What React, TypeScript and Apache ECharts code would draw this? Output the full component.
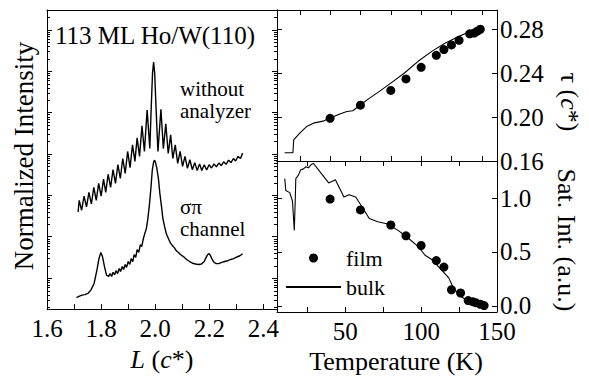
import React, { useEffect, useRef } from "react";
import * as echarts from "echarts";

const FONT = "Liberation Serif";

// ---- Left panel: L (c*) vs log10(normalized intensity) ----
const noAnalyzerL = [
  1.715, 1.719, 1.728, 1.737, 1.746, 1.755, 1.764, 1.773, 1.782, 1.791, 1.8, 1.809, 1.817, 1.826, 1.835,
  1.844, 1.853, 1.862, 1.871, 1.88, 1.889, 1.898, 1.907, 1.916, 1.925, 1.933, 1.942, 1.951, 1.96, 1.97,
  1.98, 1.984, 1.987, 1.99, 1.994, 1.998, 2.001, 2.005, 2.01, 2.021, 2.03, 2.039, 2.048, 2.057, 2.065,
  2.074, 2.083, 2.092, 2.101, 2.11, 2.119, 2.128, 2.137, 2.146, 2.155, 2.164, 2.172, 2.181, 2.19, 2.199,
  2.208, 2.217, 2.226, 2.235, 2.244, 2.253, 2.262, 2.271, 2.28, 2.289, 2.297, 2.306, 2.315, 2.323,
];
const noAnalyzerLogI = [
  1.6, 1.88, 1.64, 1.98, 1.72, 2.07, 1.79, 2.19, 1.88, 2.29, 1.98, 2.39, 2.07, 2.51, 2.19,
  2.62, 2.29, 2.74, 2.41, 2.89, 2.53, 3.06, 2.67, 3.22, 2.82, 3.39, 2.94, 3.68, 3.06, 4.06,
  3.13, 3.9, 4.44, 4.95, 5.22, 4.95, 4.44, 3.8, 3.06, 4.08, 3.13, 3.73, 3.01, 3.46, 2.89,
  3.22, 2.77, 3.06, 2.7, 2.94, 2.65, 2.86, 2.62, 2.79, 2.6, 2.76, 2.6, 2.74, 2.61, 2.74,
  2.66, 2.76, 2.69, 2.78, 2.72, 2.81, 2.75, 2.85, 2.79, 2.89, 2.83, 2.94, 2.89, 3.02,
];
const sigmaPiL = [
  1.709, 1.718, 1.729, 1.74, 1.751, 1.762, 1.774, 1.785, 1.792, 1.799, 1.805, 1.813, 1.82, 1.828, 1.833,
  1.839, 1.844, 1.85, 1.855, 1.861, 1.867, 1.872, 1.878, 1.883, 1.889, 1.894, 1.9, 1.906, 1.911, 1.917,
  1.922, 1.928, 1.933, 1.939, 1.945, 1.95, 1.956, 1.961, 1.967, 1.972, 1.978, 1.984, 1.989, 1.994, 1.997,
  2.0, 2.006, 2.012, 2.017, 2.023, 2.028, 2.034, 2.041, 2.049, 2.056, 2.064, 2.071, 2.078, 2.086, 2.093,
  2.104, 2.116, 2.127, 2.138, 2.149, 2.16, 2.171, 2.181, 2.188, 2.194, 2.199, 2.203, 2.209, 2.216, 2.225,
  2.235, 2.246, 2.257, 2.268, 2.279, 2.29, 2.302, 2.313, 2.323,
];
const sigmaPiLogI = [
  -0.47, -0.44, -0.41, -0.4, -0.37, -0.29, -0.13, 0.21, 0.47, 0.62, 0.52, 0.26, 0.07, 0.04, 0.11,
  0.04, 0.14, 0.08, 0.18, 0.11, 0.23, 0.16, 0.28, 0.21, 0.33, 0.26, 0.4, 0.33, 0.47, 0.4,
  0.57, 0.5, 0.69, 0.62, 0.81, 0.76, 0.95, 1.07, 1.19, 1.4, 1.74, 2.17, 2.6, 2.8, 2.85,
  2.82, 2.65, 2.39, 2.05, 1.74, 1.45, 1.26, 1.07, 0.95, 0.85, 0.78, 0.73, 0.66, 0.62, 0.57,
  0.52, 0.45, 0.4, 0.36, 0.34, 0.33, 0.34, 0.4, 0.5, 0.57, 0.59, 0.56, 0.47, 0.39, 0.35,
  0.35, 0.38, 0.4, 0.42, 0.45, 0.47, 0.51, 0.54, 0.59,
];
const lTicks = [1.6, 1.7, 1.8, 1.9, 2.0, 2.1, 2.2, 2.3, 2.4];
const lLabels = [1.6, 1.8, 2.0, 2.2, 2.4];
const decadeTicks = [0, 1, 2, 3, 4, 5, 6];
const minorDecades = [-1, 0, 1, 2, 3, 4, 5, 6];
const minorMultipliers = [2, 3, 4, 5, 6, 7, 8, 9];

// ---- Right panels: temperature dependence ----
const filmTauT = [40, 60, 80, 90, 100, 110, 115, 120, 125, 132, 135, 137, 139];
const filmTau = [0.199, 0.211, 0.2245, 0.235, 0.2456, 0.2566, 0.2618, 0.2661, 0.2703, 0.2762, 0.277, 0.2786, 0.2804];
const bulkTauT = [10, 15.5, 16, 20, 24.5, 29, 36, 40, 46, 51, 55, 60, 66, 72.5, 80, 89, 98, 107, 116, 125, 132.5, 138];
const bulkTau = [0.1676, 0.1676, 0.1793, 0.1854, 0.1915, 0.1946, 0.1967, 0.1992, 0.2028, 0.2052, 0.2059, 0.2114, 0.2175, 0.2236, 0.2312, 0.2404, 0.2511, 0.2602, 0.2679, 0.274, 0.2786, 0.281];
const filmSatT = [40, 60, 80, 90, 100, 110, 115, 120, 126, 131, 134, 136, 139, 141.5];
const filmSat = [0.99, 0.89, 0.75, 0.65, 0.56, 0.42, 0.36, 0.15, 0.12, 0.05, 0.04, 0.03, 0.016, 0.004];
const bulkSatT = [10.1, 10.8, 13.4, 15.2, 16.4, 17.0, 17.4, 19.0, 20.6, 22.4, 24.1, 25.7, 27.5, 29.1, 33.5, 39.1, 43.5, 49.1, 52.5, 56.9, 61.4, 65.8, 71.4, 78.1, 84.8, 91.4, 98.1, 102.6, 107.0, 113.7, 118.2, 121.5, 126.0, 131.6, 138.2, 142.7];
const bulkSat = [1.18, 1.07, 1.05, 0.97, 0.7, 0.97, 1.18, 1.21, 1.26, 1.27, 1.29, 1.28, 1.31, 1.32, 1.24, 1.14, 1.17, 1.01, 1.03, 1.01, 0.91, 0.81, 0.78, 0.76, 0.7, 0.63, 0.55, 0.47, 0.43, 0.33, 0.26, 0.16, 0.09, 0.04, 0.016, 0.009];
const tauTicks = [20, 40, 60, 80, 100, 120, 140];
const satTTicks = [25, 50, 75, 100, 125, 150];
const tLabels = [50, 100, 150];
const tauLabels = [0.16, 0.2, 0.24, 0.28];
const satLabels = [0, 0.5, 1.0];

const L_MIN = 1.6, L_MAX = 2.45;
const LOG_MIN = -0.749, LOG_MAX = 6.478;
const T_MIN = 5, T_MAX = 150;
const TAU_MIN = 0.16, TAU_MAX = 0.298;
const SAT_MIN = -0.056, SAT_MAX = 1.343;

const zip = (a: number[], b: number[]) => a.map((v, i) => [v, b[i]]);
const BLACK = "#000";
const axisLine = { show: true, onZero: false, lineStyle: { color: BLACK, width: 1 } };
const labelStyle = { color: BLACK, fontFamily: FONT, fontSize: 25 };

function xAxisDef(gridIndex: number, position: string, min: number, max: number, ticks: number[] | null, labels: number[] | null, fmt?: (v: number) => string) {
  return {
    type: "value",
    gridIndex,
    position,
    min,
    max,
    axisLine,
    axisTick: ticks ? { show: true, inside: true, length: 5, customValues: ticks, lineStyle: { color: BLACK } } : { show: false },
    axisLabel: labels ? { show: true, customValues: labels, formatter: fmt, margin: 7, ...labelStyle } : { show: false },
    splitLine: { show: false },
  };
}
function yAxisDef(gridIndex: number, position: string, min: number, max: number, ticks: number[], labels: number[] | null, fmt?: (v: number) => string) {
  return {
    type: "value",
    gridIndex,
    position,
    min,
    max,
    axisLine,
    axisTick: { show: true, inside: true, length: 5, customValues: ticks, lineStyle: { color: BLACK } },
    axisLabel: labels ? { show: true, customValues: labels, formatter: fmt, margin: 3, ...labelStyle } : { show: false },
    splitLine: { show: false },
  };
}

const txt = (text: string, size: number, extra: any = {}) => ({
  text,
  fontSize: size,
  fontFamily: FONT,
  fill: BLACK,
  ...extra,
});

export default function App() {
  const ref = useRef<HTMLDivElement>(null);
  useEffect(() => {
    document.body.style.margin = "0";
    const chart = echarts.init(ref.current!, null, { renderer: "svg" });
    const minorVals: number[] = [];
    minorDecades.forEach((d) =>
      minorMultipliers.forEach((k) => {
        const v = d + Math.log10(k);
        if (v > LOG_MIN + 0.005 && v < LOG_MAX - 0.005) minorVals.push(v);
      })
    );
    const xA = [
      {
        ...xAxisDef(0, "bottom", L_MIN, L_MAX, lTicks, lLabels, (v: number) => v.toFixed(1)),
        name: "{i|L} ({i|c}*)",
        nameLocation: "middle",
        nameGap: 36,
        nameTextStyle: {
          color: BLACK,
          fontFamily: FONT,
          fontSize: 26,
          rich: { i: { fontStyle: "italic", fontFamily: FONT, fontSize: 26, color: BLACK } },
        },
      },
      xAxisDef(0, "top", L_MIN, L_MAX, null, null),
      xAxisDef(1, "top", T_MIN, T_MAX, tauTicks, null),
      xAxisDef(1, "bottom", T_MIN, T_MAX, tauTicks, null),
      xAxisDef(2, "top", T_MIN, T_MAX, satTTicks, null),
      {
        ...xAxisDef(2, "bottom", T_MIN, T_MAX, satTTicks, tLabels, (v: number) => String(v)),
        name: "Temperature (K)",
        nameLocation: "middle",
        nameGap: 36,
        nameTextStyle: { color: BLACK, fontFamily: FONT, fontSize: 26, padding: [0, 0, 0, 18] },
      },
    ];
    const yA = [
      yAxisDef(0, "left", LOG_MIN, LOG_MAX, decadeTicks, null),
      yAxisDef(0, "right", LOG_MIN, LOG_MAX, decadeTicks, null),
      yAxisDef(1, "left", TAU_MIN, TAU_MAX, tauLabels, null),
      yAxisDef(1, "right", TAU_MIN, TAU_MAX, tauLabels, tauLabels, (v: number) => v.toFixed(2)),
      yAxisDef(2, "left", SAT_MIN, SAT_MAX, satLabels, null),
      yAxisDef(2, "right", SAT_MIN, SAT_MAX, satLabels, satLabels, (v: number) => v.toFixed(1)),
    ];
    const lineStyle = { color: BLACK, width: 1.4 };
    const option: any = {
      animation: false,
      backgroundColor: "#fff",
      grid: [
        { left: 47, top: 10, width: 230, height: 302 },
        { left: 277, top: 10, width: 220, height: 151 },
        { left: 277, top: 161, width: 220, height: 151 },
      ],
      xAxis: xA,
      yAxis: yA,
      legend: {
        data: ["film", { name: "bulk", itemStyle: { opacity: 0 } }],
        orient: "vertical",
        left: 285,
        top: 247,
        padding: 0,
        itemWidth: 55,
        itemHeight: 9,
        itemGap: 7,
        selectedMode: false,
        textStyle: { color: BLACK, fontFamily: FONT, fontSize: 22, lineHeight: 22 },
      },
      graphic: [
        { type: "text", x: 55, y: 35.5, style: txt("113 ML Ho/W(110)", 25, { verticalAlign: "middle" }) },
        { type: "text", x: 180, y: 78, style: txt("without\nanalyzer", 21, { verticalAlign: "top", lineHeight: 22 }) },
        { type: "text", x: 180, y: 196, style: txt("σπ\nchannel", 21, { verticalAlign: "top", lineHeight: 22 }) },
        {
          type: "text", x: 24, y: 156, rotation: Math.PI / 2,
          style: txt("Normalized Intensity", 27, { align: "center", verticalAlign: "middle" }),
        },
        {
          type: "text", x: 569, y: 102, rotation: -Math.PI / 2,
          style: {
            text: "{n|τ (}{i|c}{n|*)}", fontSize: 26, fontFamily: FONT, fill: BLACK, align: "center", verticalAlign: "middle",
            rich: {
              n: { fontSize: 26, fontFamily: FONT, fill: BLACK },
              i: { fontSize: 26, fontFamily: FONT, fontStyle: "italic", fill: BLACK },
            },
          },
        },
        {
          type: "text", x: 566, y: 240, rotation: -Math.PI / 2,
          style: txt("Sat. Int. (a.u.)", 26, { align: "center", verticalAlign: "middle" }),
        },
      ],
      series: [
        { name: "without analyzer", type: "line", xAxisIndex: 0, yAxisIndex: 0, data: zip(noAnalyzerL, noAnalyzerLogI), symbol: "none", lineStyle },
        { name: "σπ channel", type: "line", xAxisIndex: 0, yAxisIndex: 0, data: zip(sigmaPiL, sigmaPiLogI), symbol: "none", lineStyle },
        {
          name: "minor ticks",
          type: "custom",
          xAxisIndex: 0,
          yAxisIndex: 0,
          silent: true,
          data: minorVals.map((v) => [L_MIN, v]),
          renderItem: (_p: any, api: any) => {
            const v = api.value(1);
            const l = api.coord([L_MIN, v]);
            const r = api.coord([L_MAX, v]);
            const y = Math.round(l[1]) + 0.5;
            return {
              type: "group",
              children: [
                { type: "line", shape: { x1: l[0], y1: y, x2: l[0] + 3, y2: y }, style: { stroke: BLACK, lineWidth: 1 } },
                { type: "line", shape: { x1: r[0] - 3, y1: y, x2: r[0], y2: y }, style: { stroke: BLACK, lineWidth: 1 } },
              ],
            };
          },
        },
        { name: "bulk", type: "line", xAxisIndex: 2, yAxisIndex: 2, data: zip(bulkTauT, bulkTau), symbol: "none", lineStyle: { color: BLACK, width: 1.1 }, itemStyle: { color: BLACK } },
        { name: "film", type: "scatter", xAxisIndex: 2, yAxisIndex: 2, data: zip(filmTauT, filmTau), symbol: "circle", symbolSize: 9, itemStyle: { color: BLACK, opacity: 1 } },
        { name: "bulk", type: "line", xAxisIndex: 5, yAxisIndex: 4, data: zip(bulkSatT, bulkSat), symbol: "none", lineStyle: { color: BLACK, width: 1.1 }, itemStyle: { color: BLACK } },
        { name: "film", type: "scatter", xAxisIndex: 5, yAxisIndex: 4, data: zip(filmSatT, filmSat), symbol: "circle", symbolSize: 9, itemStyle: { color: BLACK, opacity: 1 } },
      ],
    };
    chart.setOption(option);
    return () => chart.dispose();
  }, []);
  return <div ref={ref} style={{ width: 589, height: 377 }} />;
}
